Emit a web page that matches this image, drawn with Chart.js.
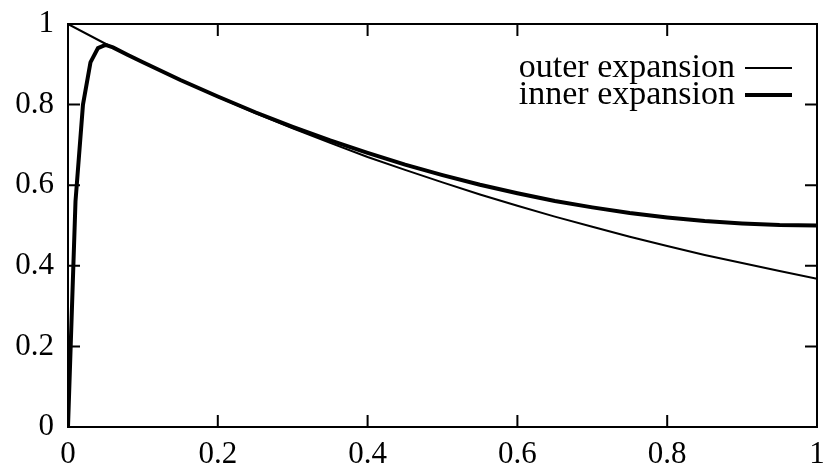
<!DOCTYPE html>
<html>
<head>
<meta charset="utf-8">
<script src="https://cdn.jsdelivr.net/npm/chart.js@4"></script>
<style>
  html, body { margin: 0; padding: 0; background: #fff; }
  #wrap { width: 823px; height: 471px; }
</style>
</head>
<body>
<div id="wrap"><canvas id="myChart" width="823" height="471"></canvas></div>
<script>
// values
var outerX = [0, 0.05, 0.1, 0.15, 0.2, 0.25, 0.3, 0.35, 0.4, 0.45, 0.5, 0.55, 0.6, 0.65, 0.7, 0.75, 0.8, 0.85, 0.9, 0.95, 1];
var outerY = [1, 0.951, 0.905, 0.861, 0.819, 0.779, 0.741, 0.705, 0.67, 0.638, 0.607, 0.577, 0.549, 0.522, 0.497, 0.472, 0.449, 0.427, 0.407, 0.387, 0.368];

var innerX = [0, 0.01, 0.02, 0.03, 0.04, 0.05, 0.06, 0.08, 0.1, 0.15, 0.2, 0.25, 0.3, 0.35, 0.4, 0.45, 0.5, 0.55, 0.6, 0.65, 0.7, 0.75, 0.8, 0.85, 0.9, 0.95, 1];
var innerY = [0, 0.56, 0.8, 0.905, 0.94, 0.948, 0.942, 0.923, 0.905, 0.861, 0.82, 0.781, 0.745, 0.711, 0.68, 0.651, 0.625, 0.601, 0.58, 0.561, 0.545, 0.531, 0.52, 0.511, 0.505, 0.501, 0.5];

var seriesLabels = ['outer expansion', 'inner expansion'];
var xTicks = [0, 0.2, 0.4, 0.6, 0.8, 1];
var xTickLabels = ['0', '0.2', '0.4', '0.6', '0.8', '1'];
var yTicks = [0, 0.2, 0.4, 0.6, 0.8, 1];
var yTickLabels = ['0', '0.2', '0.4', '0.6', '0.8', '1'];

var FONT = '"Liberation Serif", "DejaVu Serif", serif';

function toPoints(xs, ys) {
    var pts = [];
    for (var i = 0; i < xs.length; i++) pts.push({x: xs[i], y: ys[i]});
    return pts;
}

// gnuplot-ish frame with inward ticks on all four sides, plus the key
var framePlugin = {
    id: 'frame',
    afterDraw: function(chart) {
        var ctx = chart.ctx;
        var a = chart.chartArea;
        var xs = chart.scales.x, ys = chart.scales.y;
        var tl = 12;
        ctx.save();
        ctx.strokeStyle = '#000';
        ctx.lineWidth = 2;
        ctx.strokeRect(a.left, a.top, a.right - a.left, a.bottom - a.top);
        ctx.beginPath();
        xTicks.forEach(function(v) {
            var px = xs.getPixelForValue(v);
            ctx.moveTo(px, a.bottom); ctx.lineTo(px, a.bottom - tl);
            ctx.moveTo(px, a.top); ctx.lineTo(px, a.top + tl);
        });
        yTicks.forEach(function(v) {
            var py = ys.getPixelForValue(v);
            ctx.moveTo(a.left, py); ctx.lineTo(a.left + tl, py);
            ctx.moveTo(a.right, py); ctx.lineTo(a.right - tl, py);
        });
        ctx.stroke();

        // key
        ctx.font = '34px ' + FONT;
        ctx.fillStyle = '#000';
        ctx.textAlign = 'right';
        ctx.textBaseline = 'middle';
        var keyY = [68, 95];
        chart.data.datasets.forEach(function(ds, i) {
            ctx.fillText(ds.label, 735, keyY[i]);
            ctx.beginPath();
            ctx.lineWidth = ds.borderWidth;
            ctx.moveTo(745, keyY[i]);
            ctx.lineTo(792, keyY[i]);
            ctx.stroke();
        });
        ctx.restore();
    }
};

var ctx = document.getElementById('myChart').getContext('2d');
var myChart = new Chart(ctx, {
    type: 'line',
    data: {
        datasets: [{
            label: seriesLabels[0],
            data: toPoints(outerX, outerY),
            borderColor: '#000',
            borderWidth: 2,
            pointRadius: 0,
            tension: 0,
            fill: false
        }, {
            label: seriesLabels[1],
            data: toPoints(innerX, innerY),
            borderColor: '#000',
            borderWidth: 4,
            pointRadius: 0,
            tension: 0,
            fill: false
        }]
    },
    options: {
        responsive: false,
        animation: false,
        events: [],
        layout: { padding: { top: 24, right: 6, left: 0, bottom: 0 } },
        plugins: { legend: { display: false }, tooltip: { enabled: false } },
        scales: {
            x: {
                type: 'linear',
                min: 0, max: 1,
                afterBuildTicks: function(s) { s.ticks = xTicks.map(function(v) { return {value: v}; }); },
                afterFit: function(s) { s.height = 44; s.paddingLeft = 0; s.paddingRight = 0; },
                grid: { display: false, drawTicks: false },
                border: { display: false },
                ticks: {
                    color: '#000', font: { family: FONT, size: 31 }, padding: 9, maxRotation: 0,
                    callback: function(v, i) { return xTickLabels[i]; }
                }
            },
            y: {
                type: 'linear',
                min: 0, max: 1,
                afterBuildTicks: function(s) { s.ticks = yTicks.map(function(v) { return {value: v}; }); },
                afterFit: function(s) { s.width = 68; s.paddingTop = 0; s.paddingBottom = 0; },
                grid: { display: false, drawTicks: false },
                border: { display: false },
                ticks: {
                    color: '#000', font: { family: FONT, size: 31 }, padding: 14,
                    callback: function(v, i) { return yTickLabels[i]; }
                }
            }
        }
    },
    plugins: [framePlugin]
});
</script>
</body>
</html>
